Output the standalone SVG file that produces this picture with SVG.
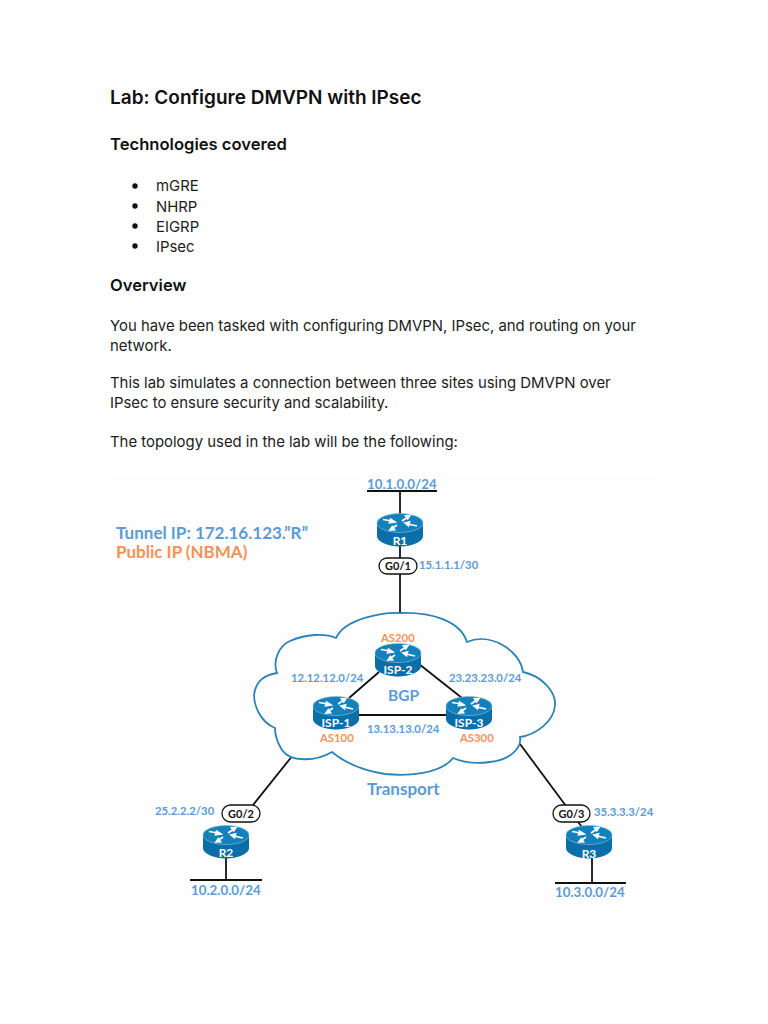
<svg xmlns="http://www.w3.org/2000/svg" width="768" height="1024" viewBox="0 0 768 1024">
<style>
.h{font-family:"Inter","Liberation Sans",sans-serif;font-weight:600;fill:#111}
.b{font-family:"Inter","Liberation Sans",sans-serif;font-size:14.9px;fill:#1c1c1c}
.d{font-family:"Lato","Liberation Sans",sans-serif;font-weight:700}
.bl{fill:#5b9bd5}.or{fill:#f79256}
.s{font-size:11.3px}.m{font-size:13.3px}
.w{fill:#fff;font-size:12px;text-anchor:middle}
.k{fill:#111;font-size:11px;text-anchor:middle}
.ln{stroke:#111;stroke-width:1.800;fill:none}
.pill{fill:#fff;stroke:#111;stroke-width:1.300}
</style>
<defs>
<g id="rt">
<path d="M-23,-7 V6 C-23,12 -11,16.500 0,16.500 C11,16.500 23,12 23,6 V-7 Z" fill="#0a6fa8"/>
<ellipse cx="0" cy="-7" rx="23" ry="9.500" fill="#1481bb" stroke="#7fb9d8" stroke-width="0.700"/>
<g stroke="#fff" stroke-width="1.700" fill="#fff">
<path d="M-17,-10.500 L-8,-9"/><path d="M-5,-8 l-4.500,-3 l-1,3.800 z"/>
<path d="M17,-4 L8,-6"/><path d="M5,-7 l4.500,-1 l-1,3.800 z"/>
<path d="M2,-9 L8,-13"/><path d="M10,-14.500 l-4.500,0.300 l2.200,3 z"/>
<path d="M-3,-5 L-8,-1.500"/><path d="M-10,0 l4.500,-0.300 l-2.200,-3 z"/>
</g>
</g>
</defs>
<rect width="768" height="1024" fill="#fff"/>
<rect x="110" y="475" width="546" height="432" fill="#fefefe"/>

<g id="document-text">
<text class="h" x="110" y="104" font-size="19">Lab: Configure DMVPN with IPsec</text>
<text class="h" x="110" y="150" font-size="16.600">Technologies covered</text>
<g fill="#111"><circle cx="135" cy="186" r="2.700"/><circle cx="135" cy="206" r="2.700"/><circle cx="135" cy="226" r="2.700"/><circle cx="135" cy="246" r="2.700"/></g>
<text class="b" x="156" y="191">mGRE</text>
<text class="b" x="156" y="212">NHRP</text>
<text class="b" x="156" y="232">EIGRP</text>
<text class="b" x="156" y="252">IPsec</text>
<text class="h" x="110" y="291" font-size="16.600">Overview</text>
<text class="b" x="110" y="331">You have been tasked with configuring DMVPN, IPsec, and routing on your</text>
<text class="b" x="110" y="351">network.</text>
<text class="b" x="110" y="388">This lab simulates a connection between three sites using DMVPN over</text>
<text class="b" x="110" y="408">IPsec to ensure security and scalability.</text>
<text class="b" x="110" y="447">The topology used in the lab will be the following:</text>
</g>

<g id="connectors">
<path class="ln" d="M367,491 H437"/>
<path class="ln" d="M400,491 V613"/>
<path class="ln" d="M293,755 L253,805"/>
<path class="ln" d="M226,858 V880"/>
<path class="ln" d="M190,880 H262"/>
<path class="ln" d="M520,744 L566,806"/>
<path class="ln" d="M578,822 L583,828"/>
<path class="ln" d="M592,858 V883"/>
<path class="ln" d="M555,883 H626"/>
</g>

<g id="cloud">
<path d="M336,638 C345,618 385,612 400,613 C430,612 460,620 467,642 C490,632 520,650 523,672 C542,676 556,692 555,705 C554,722 535,735 520,737 C522,748 510,760 490,762 C475,764 462,762 453,758 C440,775 405,776 385,774 C360,770 345,763 332,752 C315,762 290,762 282,750 C277,742 275,735 275,728 C260,722 254,705 254,695 C256,680 265,675 277,673 C272,660 280,645 290,641 C305,634 325,633 336,638 Z" fill="#fefefe" stroke="#2b83b3" stroke-width="1.800"/>
</g>
<g id="inner-links">
<path class="ln" d="M379,672 L349,698"/>
<path class="ln" d="M419,664 L462,698"/>
<path class="ln" d="M356,715 H446"/>
</g>

<g id="R1"><use href="#rt" x="400" y="530"/><text class="d w" x="400" y="545">R1</text></g>
<g id="ISP-2"><use href="#rt" x="398" y="660"/><text class="d w" x="398" y="673.500">ISP-2</text></g>
<g id="ISP-1"><use href="#rt" x="336" y="713"/><text class="d w" x="336" y="727">ISP-1</text></g>
<g id="ISP-3"><use href="#rt" x="469" y="713"/><text class="d w" x="469" y="727">ISP-3</text></g>
<g id="R2"><use href="#rt" x="226" y="842"/><text class="d w" x="226" y="857">R2</text></g>
<g id="R3"><use href="#rt" x="589" y="842"/><text class="d w" x="589" y="858">R3</text></g>

<g id="G0-1"><rect class="pill" x="379" y="558" width="38" height="16" rx="8"/><text class="d k" x="398" y="570">G0/1</text></g>
<g id="G0-2"><rect class="pill" x="222" y="805" width="38" height="17" rx="8.500"/><text class="d k" x="241" y="817.500">G0/2</text></g>
<g id="G0-3"><rect class="pill" x="553" y="805" width="37" height="17" rx="8.500"/><text class="d k" x="571.500" y="817.500">G0/3</text></g>

<g id="labels">
<text class="d bl" x="116" y="539" font-size="17">Tunnel IP: 172.16.123.”R”</text>
<text class="d or" x="116" y="558" font-size="17">Public IP (NBMA)</text>
<text class="d bl m" x="367" y="489">10.1.0.0/24</text>
<text class="d bl s" x="419" y="569">15.1.1.1/30</text>
<text class="d or s" x="381" y="642">AS200</text>
<text class="d bl s" x="291" y="682">12.12.12.0/24</text>
<text class="d bl s" x="449" y="682">23.23.23.0/24</text>
<text class="d bl" x="388" y="701" font-size="15.500">BGP</text>
<text class="d bl s" x="367" y="733">13.13.13.0/24</text>
<text class="d or s" x="320" y="742">AS100</text>
<text class="d or s" x="460" y="742">AS300</text>
<text class="d bl" x="367" y="795" font-size="17">Transport</text>
<text class="d bl s" x="155" y="815">25.2.2.2/30</text>
<text class="d bl s" x="594" y="816">35.3.3.3/24</text>
<text class="d bl m" x="191" y="895">10.2.0.0/24</text>
<text class="d bl m" x="555" y="897">10.3.0.0/24</text>
</g>
</svg>
